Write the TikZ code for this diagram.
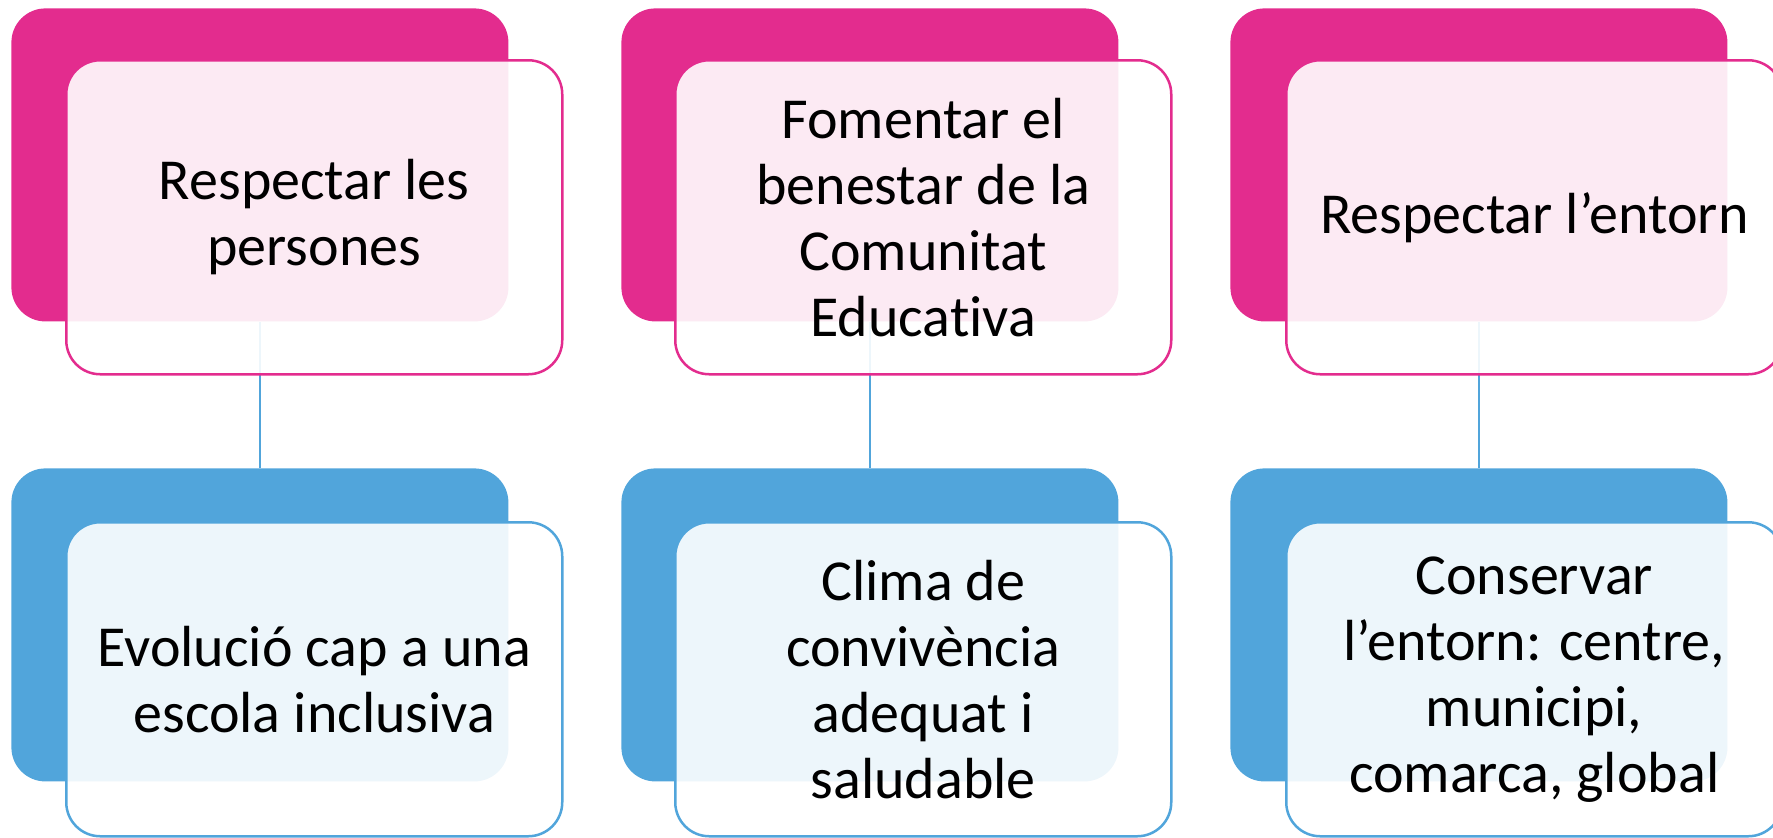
\documentclass[tikz,border=0pt]{standalone}
\usepackage{fontspec}
\setmainfont{Carlito}[Ligatures=NoCommon]
\definecolor{mag}{HTML}{E32C8E}
\definecolor{blu}{HTML}{51A5DB}
\begin{document}
\begin{tikzpicture}[x=0.5pt,y=-0.5pt,
  backbox/.style={rectangle, rounded corners=17pt, inner sep=0pt,
    minimum width=248.5pt, minimum height=156.5pt, anchor=north west, fill=#1},
  frontbox/.style={rectangle, rounded corners=17pt, draw=#1, line width=1.25pt,
    fill=white, fill opacity=0.9, text opacity=1, inner sep=0pt,
    minimum width=248pt, minimum height=157pt, anchor=north west,
    align=center, font=\fontsize{29}{33}\selectfont},
  link/.style={draw=blu, line width=1.1pt}]
\useasboundingbox (0,0) rectangle (1773,837);
% back boxes
\node[backbox=mag] (b1) at (11,8) {};
\node[backbox=mag] (b2) at (621,8) {};
\node[backbox=mag] (b3) at (1230,8) {};
\node[backbox=blu] (c1) at (11,468) {};
\node[backbox=blu] (c2) at (621,468) {};
\node[backbox=blu] (c3) at (1230,468) {};
% connectors
\draw[link] (b1.south) -- (c1.north);
\draw[link] (b2.south) -- (c2.north);
\draw[link] (b3.south) -- (c3.north);
% front boxes
\node[frontbox=mag] (f1) at (65,59) {Respectar les\\persones};
\node[frontbox=mag] (f2) at (674,59) {Fomentar el\\benestar de la\\Comunitat\\Educativa};
\node[frontbox=mag] (f3) at (1285,59) {Respectar l’entorn};
\node[frontbox=blu] (g1) at (65,521) {Evolució cap a una\\escola inclusiva};
\node[frontbox=blu] (g2) at (674,521) {Clima de\\convivència\\adequat i\\saludable};
\node[frontbox=blu] (g3) at (1285,521) {Conservar\\l’entorn: centre,\\municipi,\\comarca, global};
\end{tikzpicture}
\end{document}
